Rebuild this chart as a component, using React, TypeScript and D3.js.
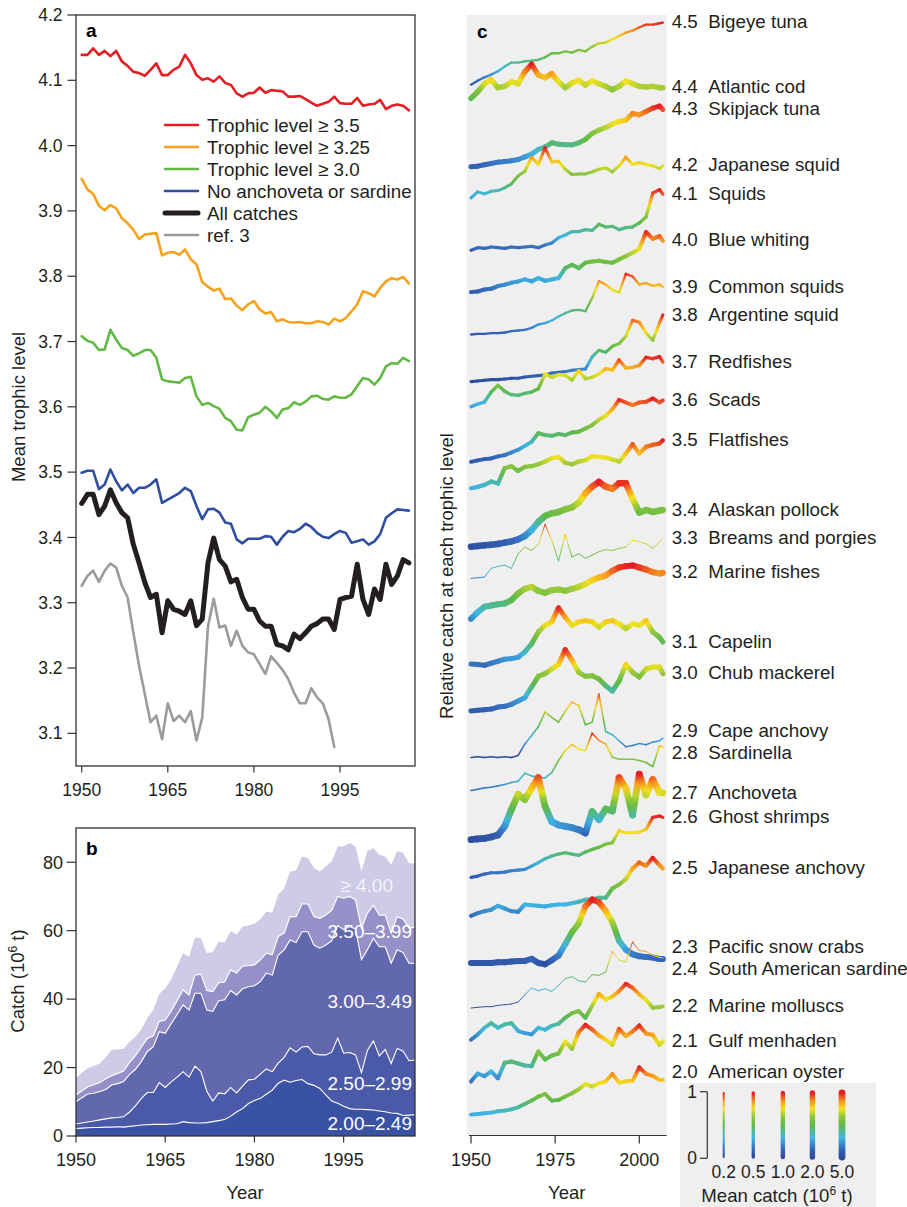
import React from 'react';
import * as d3 from 'd3';

const FONT = '"Liberation Sans", Arial, Helvetica, sans-serif';
const INK = '#231f20';

// ---------- panel a / b : yearly series 1950-2007 ----------
const years = [
  1950, 1951, 1952, 1953, 1954, 1955, 1956, 1957, 1958, 1959,
  1960, 1961, 1962, 1963, 1964, 1965, 1966, 1967, 1968, 1969,
  1970, 1971, 1972, 1973, 1974, 1975, 1976, 1977, 1978, 1979,
  1980, 1981, 1982, 1983, 1984, 1985, 1986, 1987, 1988, 1989,
  1990, 1991, 1992, 1993, 1994, 1995, 1996, 1997, 1998, 1999,
  2000, 2001, 2002, 2003, 2004, 2005, 2006, 2007,
];

const tlAbove350 = [
  4.139, 4.139, 4.149, 4.139, 4.145, 4.137, 4.145, 4.129, 4.122, 4.113,
  4.111, 4.107, 4.116, 4.126, 4.108, 4.108, 4.116, 4.121, 4.139, 4.126,
  4.108, 4.101, 4.103, 4.098, 4.106, 4.096, 4.093, 4.08, 4.075, 4.08,
  4.081, 4.089, 4.081, 4.085, 4.084, 4.083, 4.075, 4.075, 4.076, 4.071,
  4.066, 4.061, 4.064, 4.067, 4.075, 4.065, 4.064, 4.064, 4.073, 4.061,
  4.063, 4.064, 4.07, 4.056, 4.061, 4.063, 4.061, 4.054,
];
const tlAbove325 = [
  3.949, 3.933, 3.926, 3.908, 3.901, 3.909, 3.904, 3.889, 3.881, 3.871,
  3.857, 3.864, 3.865, 3.866, 3.832, 3.836, 3.837, 3.833, 3.841, 3.826,
  3.818, 3.791, 3.784, 3.778, 3.781, 3.765, 3.766, 3.755, 3.748, 3.757,
  3.762, 3.749, 3.743, 3.745, 3.731, 3.734, 3.73, 3.729, 3.73, 3.728,
  3.728, 3.731, 3.73, 3.726, 3.735, 3.731, 3.736, 3.746, 3.757, 3.777,
  3.774, 3.769, 3.782, 3.792, 3.797, 3.795, 3.799, 3.789,
];
const tlAbove300 = [
  3.708, 3.701, 3.698, 3.687, 3.688, 3.718, 3.703, 3.69, 3.687, 3.678,
  3.682, 3.687, 3.687, 3.675, 3.642, 3.639, 3.638, 3.637, 3.644, 3.646,
  3.616, 3.603, 3.606, 3.601, 3.597, 3.583, 3.578, 3.565, 3.564, 3.584,
  3.588, 3.591, 3.6, 3.593, 3.583, 3.596, 3.598, 3.607, 3.603, 3.608,
  3.616, 3.617, 3.612, 3.611, 3.616, 3.614, 3.614, 3.619, 3.632, 3.644,
  3.642, 3.634, 3.644, 3.662, 3.667, 3.666, 3.675, 3.67,
];
const noAnchovetaSardine = [
  3.499, 3.502, 3.502, 3.474, 3.481, 3.504, 3.486, 3.472, 3.481, 3.468,
  3.476, 3.476, 3.481, 3.489, 3.453, 3.458, 3.463, 3.468, 3.476, 3.471,
  3.448, 3.428, 3.443, 3.444, 3.438, 3.423, 3.421, 3.397, 3.391, 3.398,
  3.398, 3.398, 3.402, 3.401, 3.389, 3.401, 3.41, 3.408, 3.413, 3.421,
  3.416, 3.407, 3.401, 3.399, 3.405, 3.41, 3.407, 3.392, 3.394, 3.397,
  3.389, 3.394, 3.405, 3.43, 3.437, 3.443, 3.442, 3.441,
];
const allCatches = [
  3.452, 3.466, 3.466, 3.435, 3.448, 3.473, 3.453, 3.438, 3.43, 3.389,
  3.361, 3.331, 3.308, 3.313, 3.254, 3.303, 3.29, 3.287, 3.282, 3.303,
  3.265, 3.275, 3.361, 3.399, 3.366, 3.356, 3.332, 3.336, 3.308, 3.29,
  3.29, 3.272, 3.264, 3.264, 3.236, 3.234, 3.228, 3.252, 3.245, 3.254,
  3.264, 3.268, 3.275, 3.275, 3.259, 3.305, 3.308, 3.31, 3.359, 3.305,
  3.282, 3.321, 3.305, 3.359, 3.328, 3.341, 3.366, 3.361,
];
const ref3 = [
  3.326, 3.341, 3.349, 3.332, 3.349, 3.36, 3.354, 3.326, 3.308, 3.254,
  3.203, 3.16, 3.117, 3.127, 3.091, 3.146, 3.119, 3.127, 3.117, 3.134,
  3.089, 3.124, 3.264, 3.306, 3.262, 3.265, 3.234, 3.257, 3.234, 3.224,
  3.221, 3.206, 3.191, 3.218, 3.208, 3.197, 3.183, 3.162, 3.146, 3.146,
  3.169, 3.155, 3.146, 3.122, 3.079,
];

const trophicTicks = [3.1, 3.2, 3.3, 3.4, 3.5, 3.6, 3.7, 3.8, 3.9, 4.0, 4.1, 4.2];
const yearTicks = [1950, 1965, 1980, 1995];

const trendSeries = [
  { label: 'Trophic level \u2265 3.5', values: tlAbove350, color: '#e31e24', width: 2.6 },
  { label: 'Trophic level \u2265 3.25', values: tlAbove325, color: '#f7a21b', width: 2.6 },
  { label: 'Trophic level \u2265 3.0', values: tlAbove300, color: '#62b946', width: 2.6 },
  { label: 'No anchoveta or sardine', values: noAnchovetaSardine, color: '#2f4ea1', width: 2.6 },
  { label: 'All catches', values: allCatches, color: INK, width: 5 },
  { label: 'ref. 3', values: ref3, color: '#9b9b9b', width: 2.6 },
];

// panel b: cumulative catch (10^6 t) up to the top of each trophic band
const catchTo249 = [
  2.2, 2.3, 2.4, 2.5, 2.5, 2.6, 2.6, 2.7, 2.6, 2.8,
  3.0, 3.2, 3.3, 3.4, 3.4, 3.4, 3.5, 3.6, 4.2, 3.9,
  3.8, 3.8, 3.9, 4.2, 4.5, 4.8, 5.8, 7.0, 8.0, 9.5,
  10.4, 11.0, 12.2, 13.4, 15.4, 16.3, 15.7, 16.2, 16.5, 15.3,
  14.8, 13.9, 12.0, 10.2, 9.6, 8.7, 8.0, 7.8, 7.8, 7.7,
  7.6, 7.3, 7.1, 6.7, 6.6, 6.0, 6.1, 6.2,
];
const catchTo299 = [
  3.5, 3.8, 4.1, 4.4, 4.7, 5.0, 5.3, 5.4, 5.6, 7.0,
  8.8, 11.0, 12.7, 12.7, 15.6, 14.2, 15.8, 17.2, 18.8, 17.2,
  20.4, 18.8, 13.0, 10.2, 12.6, 12.3, 14.2, 12.6, 14.6, 16.4,
  16.6, 18.1, 19.6, 18.8, 21.3, 23.0, 25.8, 24.5, 26.0, 26.2,
  24.0, 23.7, 23.7, 24.5, 28.6, 24.2, 24.4, 23.7, 18.5, 25.0,
  27.8, 23.4, 25.3, 21.2, 25.6, 24.8, 22.0, 22.2,
];
const catchTo349 = [
  10.0, 11.2, 12.3, 12.5, 13.0, 13.6, 14.9, 15.3, 15.9, 18.0,
  19.5, 21.8, 24.7, 26.1, 30.5, 30.0, 32.8, 35.5, 38.3, 36.8,
  41.7, 41.7, 36.8, 36.4, 39.5, 39.8, 42.5, 41.2, 43.0, 43.6,
  43.9, 45.1, 47.6, 47.0, 52.9, 54.4, 57.3, 56.5, 59.7, 59.7,
  55.8, 54.9, 55.8, 57.0, 61.5, 60.3, 61.2, 60.5, 51.5, 54.4,
  57.8, 55.3, 55.3, 50.5, 54.4, 53.6, 50.5, 50.5,
];
const catchTo399 = [
  12.0, 13.2, 14.4, 15.0, 15.6, 16.7, 17.6, 18.3, 19.0, 21.5,
  23.5, 26.0, 28.5, 29.3, 33.5, 33.9, 36.5, 39.5, 42.7, 41.2,
  47.0, 47.3, 42.5, 42.2, 44.8, 45.0, 48.5, 47.6, 49.6, 49.8,
  50.0, 51.5, 53.4, 53.0, 58.3, 59.3, 64.1, 64.1, 67.8, 67.8,
  64.1, 63.6, 64.6, 66.0, 70.0, 69.5, 70.0, 69.0, 60.7, 65.1,
  67.4, 64.5, 64.5, 59.3, 64.1, 63.4, 60.7, 61.0,
];
const catchTotal = [
  16.9, 18.5, 19.8, 20.5, 21.2, 23.0, 25.1, 25.3, 25.5, 27.5,
  29.0, 31.2, 34.5, 36.8, 41.5, 43.2, 45.8, 49.5, 53.4, 52.4,
  58.0, 57.8, 53.4, 53.8, 56.8, 56.5, 59.9, 58.9, 61.2, 61.5,
  62.0, 63.3, 65.6, 65.2, 70.5, 72.4, 77.3, 77.6, 81.7, 81.2,
  78.3, 77.3, 78.8, 80.2, 84.6, 84.6, 85.6, 84.6, 77.3, 83.3,
  84.1, 82.2, 81.7, 79.2, 83.3, 82.7, 79.7, 79.7,
];
const catchTicks = [0, 20, 40, 60, 80];
const bandLabels = ['2.00\u20132.49', '2.50\u20132.99', '3.00\u20133.49', '3.50\u20133.99', '\u2265 4.00'];
const bandColors = ['#3a52a4', '#4a59a8', '#6268ae', '#9591c8', '#cdcbe5'];

// ---------- panel c : relative catch, every second year ----------
const cYears = [
  1950, 1952, 1954, 1956, 1958, 1960, 1962, 1964, 1966, 1968,
  1970, 1972, 1974, 1976, 1978, 1980, 1982, 1984, 1986, 1988,
  1990, 1992, 1994, 1996, 1998, 2000, 2002, 2004, 2006, 2007,
];

const bigeyeTuna = [0.07, 0.13, 0.18, 0.22, 0.27, 0.34, 0.4, 0.4, 0.42, 0.43, 0.44, 0.48, 0.54, 0.54, 0.57, 0.55, 0.59, 0.57, 0.64, 0.69, 0.7, 0.75, 0.8, 0.85, 0.88, 0.93, 0.97, 0.97, 0.99, 1.0];
const atlanticCod = [0.49, 0.59, 0.71, 0.77, 0.65, 0.67, 0.74, 0.71, 0.89, 1.0, 0.84, 0.8, 0.86, 0.74, 0.65, 0.72, 0.76, 0.69, 0.75, 0.71, 0.67, 0.62, 0.67, 0.75, 0.71, 0.67, 0.66, 0.67, 0.65, 0.65];
const skipjackTuna = [0.09, 0.1, 0.12, 0.14, 0.16, 0.17, 0.18, 0.2, 0.24, 0.28, 0.35, 0.39, 0.45, 0.43, 0.42, 0.42, 0.45, 0.5, 0.59, 0.64, 0.68, 0.73, 0.77, 0.79, 0.89, 0.87, 0.92, 0.97, 1.0, 0.95];
const japaneseSquid = [0.25, 0.34, 0.31, 0.35, 0.36, 0.4, 0.46, 0.58, 0.65, 0.86, 0.75, 1.0, 0.79, 0.8, 0.68, 0.6, 0.61, 0.61, 0.64, 0.68, 0.7, 0.64, 0.73, 0.86, 0.75, 0.78, 0.75, 0.73, 0.69, 0.73];
const squids = [0.09, 0.13, 0.12, 0.14, 0.13, 0.12, 0.14, 0.13, 0.14, 0.15, 0.13, 0.17, 0.2, 0.28, 0.32, 0.37, 0.37, 0.4, 0.39, 0.48, 0.44, 0.45, 0.4, 0.43, 0.44, 0.5, 0.59, 0.95, 1.0, 0.93];
const blueWhiting = [0.09, 0.1, 0.13, 0.14, 0.18, 0.2, 0.23, 0.25, 0.28, 0.25, 0.3, 0.26, 0.28, 0.3, 0.45, 0.5, 0.45, 0.53, 0.55, 0.56, 0.54, 0.53, 0.58, 0.63, 0.68, 0.74, 0.99, 0.89, 0.93, 0.86];
const commonSquids = [0.08, 0.09, 0.09, 0.1, 0.1, 0.11, 0.13, 0.14, 0.15, 0.18, 0.23, 0.25, 0.29, 0.35, 0.4, 0.44, 0.45, 0.43, 0.63, 0.88, 0.83, 0.75, 0.71, 0.99, 0.95, 0.83, 0.85, 0.81, 0.83, 0.79];
const argentineSquid = [0.0, 0.01, 0.02, 0.03, 0.03, 0.04, 0.05, 0.05, 0.07, 0.08, 0.09, 0.1, 0.13, 0.14, 0.15, 0.17, 0.18, 0.19, 0.37, 0.47, 0.44, 0.53, 0.57, 0.68, 0.92, 0.89, 0.73, 0.62, 0.88, 1.0];
const redfishes = [0.25, 0.29, 0.32, 0.47, 0.57, 0.48, 0.43, 0.42, 0.45, 0.47, 0.52, 0.74, 0.69, 0.73, 0.72, 0.65, 0.79, 0.67, 0.69, 0.74, 0.82, 0.8, 0.95, 0.83, 0.84, 0.87, 0.99, 0.97, 1.0, 0.92];
const scads = [0.05, 0.07, 0.09, 0.1, 0.13, 0.15, 0.19, 0.23, 0.29, 0.35, 0.48, 0.45, 0.44, 0.47, 0.45, 0.49, 0.5, 0.55, 0.6, 0.68, 0.74, 0.84, 0.98, 0.94, 0.9, 0.94, 0.95, 1.0, 0.94, 0.97];
const flatfishes = [0.28, 0.3, 0.33, 0.38, 0.35, 0.58, 0.61, 0.54, 0.6, 0.61, 0.64, 0.68, 0.73, 0.75, 0.66, 0.64, 0.68, 0.7, 0.76, 0.75, 0.74, 0.71, 0.68, 0.8, 0.94, 0.8, 0.9, 0.93, 0.95, 1.0];
const alaskanPollock = [0.03, 0.04, 0.05, 0.06, 0.07, 0.09, 0.11, 0.14, 0.19, 0.28, 0.4, 0.49, 0.53, 0.55, 0.59, 0.62, 0.69, 0.83, 0.93, 1.0, 0.93, 0.9, 0.98, 0.98, 0.75, 0.54, 0.58, 0.55, 0.57, 0.58];
const breamsPorgies = [0.18, 0.19, 0.2, 0.33, 0.36, 0.38, 0.33, 0.55, 0.65, 0.6, 0.69, 0.99, 0.75, 0.44, 0.84, 0.5, 0.55, 0.48, 0.53, 0.58, 0.61, 0.6, 0.63, 0.65, 0.75, 0.73, 0.7, 0.63, 0.73, 0.78];
const marineFishes = [0.2, 0.3, 0.38, 0.4, 0.42, 0.43, 0.48, 0.58, 0.65, 0.68, 0.62, 0.59, 0.63, 0.64, 0.62, 0.65, 0.68, 0.72, 0.78, 0.82, 0.85, 0.92, 0.97, 0.99, 1.0, 0.97, 0.94, 0.9, 0.88, 0.89];
const capelin = [0.15, 0.14, 0.13, 0.16, 0.19, 0.22, 0.23, 0.25, 0.33, 0.45, 0.63, 0.73, 0.78, 0.99, 0.85, 0.73, 0.78, 0.8, 0.78, 0.7, 0.78, 0.8, 0.75, 0.68, 0.75, 0.73, 0.8, 0.63, 0.55, 0.48];
const chubMackerel = [0.07, 0.08, 0.09, 0.1, 0.13, 0.14, 0.17, 0.22, 0.27, 0.43, 0.59, 0.63, 0.7, 0.77, 0.99, 0.83, 0.65, 0.59, 0.6, 0.55, 0.45, 0.37, 0.52, 0.77, 0.65, 0.58, 0.7, 0.73, 0.73, 0.63];
const capeAnchovy = [0.0, 0.01, 0.0, 0.01, 0.0, 0.01, 0.0, 0.03, 0.2, 0.33, 0.46, 0.68, 0.6, 0.53, 0.69, 0.83, 0.78, 0.49, 0.53, 0.95, 0.39, 0.34, 0.25, 0.16, 0.18, 0.21, 0.19, 0.23, 0.25, 0.29];
const sardinella = [0.13, 0.15, 0.17, 0.18, 0.2, 0.22, 0.25, 0.27, 0.39, 0.35, 0.32, 0.32, 0.4, 0.58, 0.73, 0.82, 0.75, 0.73, 0.99, 0.88, 0.83, 0.63, 0.6, 0.6, 0.6, 0.58, 0.55, 0.49, 0.8, 0.78];
const anchoveta = [0.02, 0.03, 0.04, 0.06, 0.09, 0.22, 0.47, 0.7, 0.62, 0.79, 0.95, 0.52, 0.29, 0.24, 0.22, 0.2, 0.17, 0.12, 0.44, 0.32, 0.48, 0.45, 0.95, 0.79, 0.39, 1.0, 0.69, 0.92, 0.73, 0.72];
const ghostShrimps = [0.08, 0.1, 0.13, 0.15, 0.15, 0.16, 0.18, 0.19, 0.2, 0.25, 0.3, 0.36, 0.4, 0.43, 0.45, 0.43, 0.41, 0.46, 0.5, 0.53, 0.58, 0.6, 0.78, 0.75, 0.75, 0.76, 0.8, 0.98, 1.0, 0.98];
const japaneseAnchovy = [0.13, 0.17, 0.2, 0.22, 0.28, 0.24, 0.2, 0.19, 0.3, 0.29, 0.28, 0.27, 0.29, 0.3, 0.3, 0.32, 0.34, 0.37, 0.38, 0.4, 0.4, 0.54, 0.6, 0.68, 0.84, 0.93, 0.88, 1.0, 0.89, 0.84];
const saSardine = [0.05, 0.05, 0.05, 0.05, 0.06, 0.06, 0.07, 0.08, 0.08, 0.11, 0.05, 0.03, 0.09, 0.16, 0.33, 0.51, 0.64, 0.9, 1.0, 0.96, 0.83, 0.66, 0.38, 0.25, 0.18, 0.15, 0.14, 0.13, 0.11, 0.11];
const snowCrabs = [0.0, 0.01, 0.02, 0.02, 0.04, 0.05, 0.06, 0.09, 0.2, 0.3, 0.26, 0.29, 0.25, 0.34, 0.44, 0.47, 0.41, 0.39, 0.5, 0.49, 0.54, 0.85, 0.72, 0.69, 0.99, 0.86, 0.85, 0.79, 0.76, 0.75];
const marineMolluscs = [0.15, 0.23, 0.33, 0.4, 0.33, 0.38, 0.4, 0.28, 0.25, 0.23, 0.33, 0.3, 0.36, 0.39, 0.48, 0.55, 0.58, 0.48, 0.66, 0.84, 0.75, 0.8, 0.88, 0.99, 0.93, 0.83, 0.75, 0.63, 0.64, 0.65];
const gulfMenhaden = [0.15, 0.27, 0.23, 0.3, 0.2, 0.43, 0.45, 0.42, 0.39, 0.38, 0.6, 0.48, 0.54, 0.57, 0.75, 0.64, 0.89, 1.0, 0.93, 0.84, 0.78, 0.7, 0.94, 0.83, 0.9, 0.99, 0.87, 0.85, 0.7, 0.75];
const americanOyster = [0.28, 0.29, 0.3, 0.31, 0.33, 0.34, 0.36, 0.39, 0.44, 0.49, 0.55, 0.59, 0.49, 0.5, 0.55, 0.6, 0.66, 0.74, 0.7, 0.75, 0.78, 0.89, 0.76, 0.78, 0.79, 0.99, 0.89, 0.86, 0.8, 0.8];

const speciesNames = [
  'Bigeye tuna', 'Atlantic cod', 'Skipjack tuna', 'Japanese squid', 'Squids', 'Blue whiting',
  'Common squids', 'Argentine squid', 'Redfishes', 'Scads', 'Flatfishes', 'Alaskan pollock',
  'Breams and porgies', 'Marine fishes', 'Capelin', 'Chub mackerel', 'Cape anchovy', 'Sardinella',
  'Anchoveta', 'Ghost shrimps', 'Japanese anchovy', 'South American sardine', 'Pacific snow crabs',
  'Marine molluscs', 'Gulf menhaden', 'American oyster',
];
const speciesTL = [
  4.5, 4.4, 4.3, 4.2, 4.1, 4.0, 3.9, 3.8, 3.7, 3.6, 3.5, 3.4, 3.3,
  3.2, 3.1, 3.0, 2.9, 2.8, 2.7, 2.6, 2.5, 2.4, 2.3, 2.2, 2.1, 2.0,
];
// mean catch, 10^6 t
const speciesMeanCatch = [
  0.25, 2.0, 1.5, 0.4, 0.45, 0.8, 0.25, 0.4, 0.5, 0.7, 0.9, 4.0, 0.1,
  3.0, 1.5, 1.5, 0.15, 0.15, 5.0, 0.45, 0.8, 3.0, 0.1, 0.7, 0.8, 0.7,
];
const speciesValues = [
  bigeyeTuna, atlanticCod, skipjackTuna, japaneseSquid, squids, blueWhiting,
  commonSquids, argentineSquid, redfishes, scads, flatfishes, alaskanPollock,
  breamsPorgies, marineFishes, capelin, chubMackerel, capeAnchovy, sardinella,
  anchoveta, ghostShrimps, japaneseAnchovy, saSardine, snowCrabs,
  marineMolluscs, gulfMenhaden, americanOyster,
];
const meanCatchKeys = [0.2, 0.5, 1.0, 2.0, 5.0];
const cYearTicks = [1950, 1975, 2000];

const catchColor = d3
  .scaleLinear<string>()
  .domain([0, 0.12, 0.3, 0.5, 0.63, 0.75, 0.88, 1])
  .range(['#2b4a9b', '#3566ba', '#3fb6e4', '#5fba46', '#8fc63e', '#f3e31d', '#f6901e', '#e31e24'])
  .clamp(true);

const REL_H = 66.7;

function PanelA() {
  const x = d3.scaleLinear().domain([1950, 1995]).range([81.7, 340]);
  const y = d3.scaleLinear().domain([3.05, 4.2]).range([766, 15]);
  const line = d3.line<number>().x((_, i) => x(years[i])).y((d) => y(d));
  const drawOrder = [0, 1, 2, 3, 5, 4];

  return (
    <g>
      <rect x={76} y={15} width={339} height={751} fill="none" stroke="#333" strokeWidth={1.3} />
      {trophicTicks.map((t) => (
        <g key={t}>
          <line x1={67.5} x2={76} y1={y(t)} y2={y(t)} stroke="#333" strokeWidth={1.2} />
          <text x={62.5} y={y(t)} dy="0.35em" textAnchor="end" fontSize={17.5} fill={INK}>
            {t.toFixed(1)}
          </text>
        </g>
      ))}
      {yearTicks.map((t) => (
        <g key={t}>
          <line x1={x(t)} x2={x(t)} y1={766} y2={772.5} stroke="#333" strokeWidth={1.2} />
          <text x={x(t)} y={790} dy="0.35em" textAnchor="middle" fontSize={17.5} fill={INK}>
            {t}
          </text>
        </g>
      ))}
      <text transform="translate(19,407) rotate(-90)" textAnchor="middle" dy="0.35em" fontSize={18.5} fill={INK}>
        Mean trophic level
      </text>
      <text x={86} y={37} fontSize={19} fontWeight="bold" fill="#000">a</text>
      {drawOrder.map((i) => {
        const s = trendSeries[i];
        return (
          <path key={s.label} d={line(s.values) || ''} fill="none" stroke={s.color}
            strokeWidth={s.width} strokeLinejoin="round" strokeLinecap="round" />
        );
      })}
      {trendSeries.map((s, i) => {
        const ly = 125 + i * 22;
        return (
          <g key={s.label}>
            <line x1={165} x2={198} y1={ly} y2={ly} stroke={s.color} strokeWidth={s.width} strokeLinecap="round" />
            <text x={207} y={ly} dy="0.35em" fontSize={18.8} fill={INK}>{s.label}</text>
          </g>
        );
      })}
    </g>
  );
}

function PanelB() {
  const x = d3.scaleLinear().domain([1950, 2007]).range([76, 415]);
  const y = d3.scaleLinear().domain([0, 90]).range([1136, 828]);
  const bounds = [catchTo249, catchTo299, catchTo349, catchTo399, catchTotal];
  const labelPos = [
    { x: 412, y: 1123 },
    { x: 412, y: 1083 },
    { x: 412, y: 1001 },
    { x: 412, y: 931 },
    { x: 393, y: 885 },
  ];

  return (
    <g>
      {bounds.map((upper, bi) => {
        const lower = bi === 0 ? null : bounds[bi - 1];
        const area = d3
          .area<number>()
          .x((_, i) => x(years[i]))
          .y0((_, i) => y(lower ? lower[i] : 0))
          .y1((d) => y(d));
        return <path key={bi} d={area(upper) || ''} fill={bandColors[bi]} />;
      })}
      {bounds.slice(0, 4).map((upper, bi) => {
        const line = d3.line<number>().x((_, i) => x(years[i])).y((d) => y(d));
        return <path key={bi} d={line(upper) || ''} fill="none" stroke="#fff" strokeWidth={1.1} />;
      })}
      {bandLabels.map((l, i) => (
        <text key={l} x={labelPos[i].x} y={labelPos[i].y} dy="0.35em" textAnchor="end" fontSize={19}
          fill={i === 4 ? '#f2f2fa' : '#fff'}>
          {l}
        </text>
      ))}
      <rect x={76} y={828} width={339} height={308} fill="none" stroke="#333" strokeWidth={1.3} />
      {catchTicks.map((t) => (
        <g key={t}>
          <line x1={66.5} x2={76} y1={y(t)} y2={y(t)} stroke="#333" strokeWidth={1.2} />
          <text x={63} y={y(t)} dy="0.35em" textAnchor="end" fontSize={18} fill={INK}>{t}</text>
        </g>
      ))}
      {yearTicks.map((t) => (
        <g key={t}>
          <line x1={x(t)} x2={x(t)} y1={1136} y2={1142.5} stroke="#333" strokeWidth={1.2} />
          <text x={x(t)} y={1160} dy="0.35em" textAnchor="middle" fontSize={18} fill={INK}>{t}</text>
        </g>
      ))}
      <text x={245} y={1193} dy="0.35em" textAnchor="middle" fontSize={18.5} fill={INK}>Year</text>
      <text transform="translate(18,981) rotate(-90)" textAnchor="middle" dy="0.35em" fontSize={18.5} fill={INK}>
        Catch (10<tspan dy={-7} fontSize={12}>6</tspan><tspan dy={7}> t)</tspan>
      </text>
      <text x={86} y={855} fontSize={19} fontWeight="bold" fill="#000">b</text>
    </g>
  );
}

function PanelC() {
  const x = d3.scaleLinear().domain([1950, 2000]).range([471, 639.3]);
  const base = d3.scaleLinear().domain([2.0, 4.5]).range([1133.3, 89.3]);
  const rel = d3.scaleLinear().domain([0, 1]).range([0, REL_H]);
  const width = d3.scaleLog().domain([0.2, 5]).range([2, 6.8]);
  const stopsAt = [0, 0.25, 0.5, 0.75, 1];

  const gradients: React.ReactNode[] = [];
  const segments: React.ReactNode[] = [];
  speciesValues.forEach((vals, si) => {
    const pts = vals.map((v, k) => [x(cYears[k]), base(speciesTL[si]) - rel(v)]);
    const sw = width(speciesMeanCatch[si]);
    for (let k = 0; k < pts.length - 1; k++) {
      const id = `seg-${si}-${k}`;
      const v0 = vals[k];
      const v1 = vals[k + 1];
      gradients.push(
        <linearGradient key={id} id={id} gradientUnits="userSpaceOnUse"
          x1={pts[k][0]} y1={pts[k][1]} x2={pts[k + 1][0]} y2={pts[k + 1][1]}>
          {stopsAt.map((t) => (
            <stop key={t} offset={t} stopColor={catchColor(v0 + (v1 - v0) * t)} />
          ))}
        </linearGradient>
      );
      segments.push(
        <line key={id} x1={pts[k][0]} y1={pts[k][1]} x2={pts[k + 1][0]} y2={pts[k + 1][1]}
          stroke={`url(#${id})`} strokeWidth={sw} strokeLinecap="round" />
      );
    }
  });

  // labels at the line ends, pushed apart where they collide
  const labels = speciesValues.map((vals, si) => ({
    si,
    y: base(speciesTL[si]) - rel(vals[vals.length - 1]) - 1,
  }));
  labels.sort((a, b) => a.y - b.y);
  const gap = 21.5;
  for (let pass = 0; pass < 30; pass++) {
    for (let i = 1; i < labels.length; i++) {
      const d = labels[i].y - labels[i - 1].y;
      if (d < gap) {
        const m = (gap - d) / 2;
        labels[i - 1].y -= m;
        labels[i].y += m;
      }
    }
  }
  const last = labels.length - 1;
  labels[last].y = Math.min(labels[last].y, 1071);
  for (let i = last - 1; i >= 0; i--) labels[i].y = Math.min(labels[i].y, labels[i + 1].y - gap);

  const keyX = d3.scalePoint<number>().domain(meanCatchKeys).range([723.7, 842]);
  const barTop = 1093;
  const barBottom = 1157;
  const barStops = [0, 0.12, 0.3, 0.5, 0.63, 0.75, 0.88, 1];

  return (
    <g>
      <defs>
        {gradients}
        <linearGradient id="key-grad" gradientUnits="userSpaceOnUse" x1={0} y1={barBottom} x2={0} y2={barTop}>
          {barStops.map((t) => (
            <stop key={t} offset={t} stopColor={catchColor(t)} />
          ))}
        </linearGradient>
      </defs>
      <rect x={466.7} y={15} width={200} height={1120} fill="#efefef" />
      <text x={477} y={38} fontSize={19} fontWeight="bold" fill="#000">c</text>
      {segments}
      <line x1={469} x2={666.7} y1={1135.5} y2={1135.5} stroke="#333" strokeWidth={1.2} />
      {cYearTicks.map((t) => (
        <g key={t}>
          <line x1={x(t)} x2={x(t)} y1={1135.5} y2={1143.5} stroke="#333" strokeWidth={1.2} />
          <text x={x(t)} y={1160} dy="0.35em" textAnchor="middle" fontSize={18} fill={INK}>{t}</text>
        </g>
      ))}
      <text x={566.7} y={1193} dy="0.35em" textAnchor="middle" fontSize={18.5} fill={INK}>Year</text>
      <text transform="translate(447,576) rotate(-90)" textAnchor="middle" dy="0.35em" fontSize={18.5} fill={INK}>
        Relative catch at each trophic level
      </text>
      {labels.map((l) => (
        <g key={l.si}>
          <text x={671.7} y={l.y} dy="0.35em" fontSize={18.8} fill={INK}>{speciesTL[l.si].toFixed(1)}</text>
          <text x={708.3} y={l.y} dy="0.35em" fontSize={18.8} fill={INK}>{speciesNames[l.si]}</text>
        </g>
      ))}
      <rect x={680} y={1082.7} width={196} height={130} fill="#efefef" />
      <line x1={707.3} x2={707.3} y1={1091.7} y2={1158.3} stroke="#333" strokeWidth={1.2} />
      <line x1={700} x2={707.3} y1={1091.7} y2={1091.7} stroke="#333" strokeWidth={1.2} />
      <line x1={700} x2={707.3} y1={1158.3} y2={1158.3} stroke="#333" strokeWidth={1.2} />
      <text x={692} y={1092} dy="0.35em" textAnchor="middle" fontSize={17.5} fill={INK}>1</text>
      <text x={692} y={1158} dy="0.35em" textAnchor="middle" fontSize={17.5} fill={INK}>0</text>
      {meanCatchKeys.map((k) => (
        <g key={k}>
          <line x1={keyX(k)} x2={keyX(k)} y1={barTop} y2={barBottom} stroke="url(#key-grad)"
            strokeWidth={width(k)} strokeLinecap="round" />
          <text x={keyX(k)} y={1171.7} dy="0.35em" textAnchor="middle" fontSize={17.5} fill={INK}>
            {k.toFixed(1)}
          </text>
        </g>
      ))}
      <text x={777} y={1195} dy="0.35em" textAnchor="middle" fontSize={18.6} fill={INK}>
        Mean catch (10<tspan dy={-7} fontSize={12}>6</tspan><tspan dy={7}> t)</tspan>
      </text>
    </g>
  );
}

export default function App() {
  return (
    <svg width={907} height={1207} fontFamily={FONT}
      style={{ position: 'absolute', left: 0, top: 0, background: '#fff' }}>
      <PanelA />
      <PanelB />
      <PanelC />
    </svg>
  );
}
